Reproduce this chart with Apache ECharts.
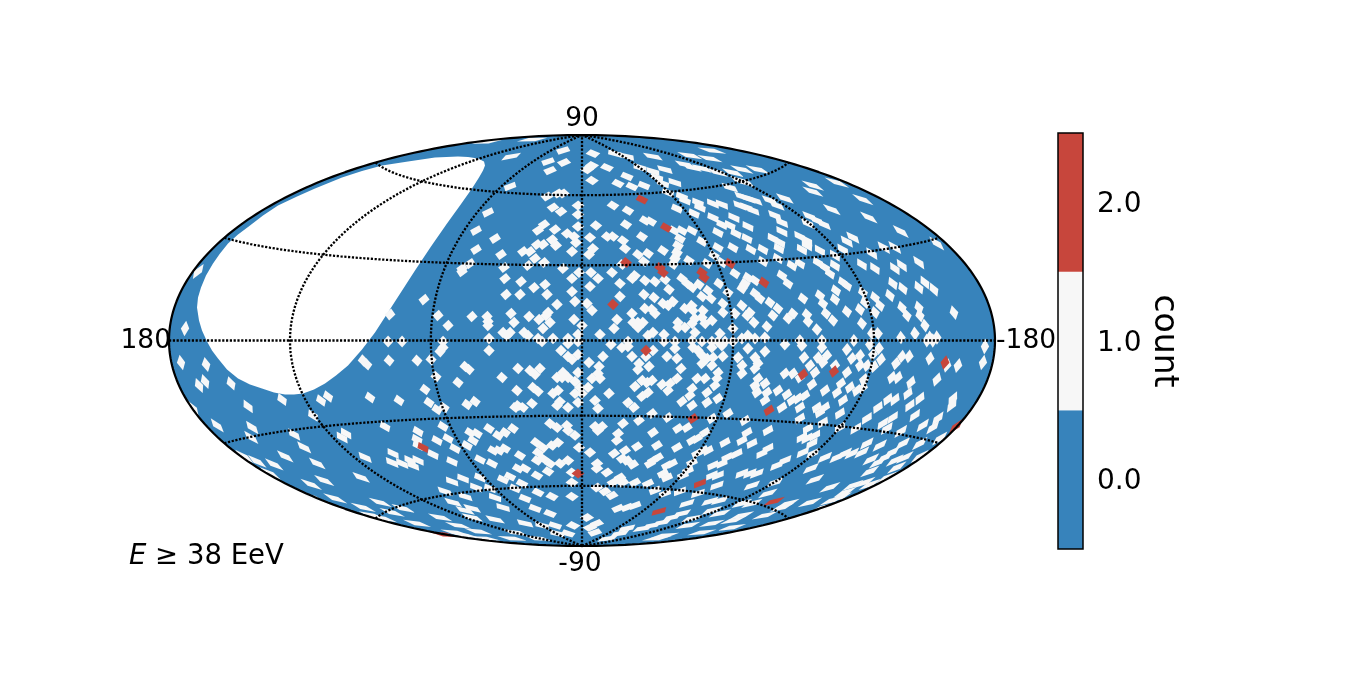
<!DOCTYPE html>
<html><head><meta charset="utf-8">
<style>html,body{margin:0;padding:0;background:#fff}#c{width:1350px;height:675px}</style>
<script src="https://cdn.jsdelivr.net/npm/echarts@6/dist/echarts.min.js"></script>
</head><body><div id="c"></div>
<script>
// Map-plane positions (east, north offsets from the map centre, in plane units).
const oneCellsNorthWest = [[-50,201],[-95,199],[-71,184],[-34,179],[-19,190],[-18,178],[-32,170],[-72,154],[-35,144],[-19,147],[-24,147],[-4,135],[-29,133],[-21,129],[-94,128],[-4,126],[-4,114],[-44,110],[-38,116],[-27,111],[-15,107],[-106,110],[-87,102],[-30,101],[-26,95],[-8,104],[-6,98],[-106,91],[-45,96],[-39,96],[-59,89],[-52,89],[-10,89],[-81,86],[-47,82],[-38,78],[-112,77],[-54,75],[-78,73],[-19,72],[-120,72]];
const oneCellsNorthEast = [[11,187],[33,187],[45,184],[71,184],[108,185],[130,190],[128,182],[10,175],[25,173],[5,171],[58,173],[83,171],[110,173],[103,176],[120,172],[136,168],[151,168],[160,171],[176,171],[71,169],[45,164],[75,163],[158,160],[163,158],[10,160],[36,157],[50,154],[62,155],[93,158],[148,153],[81,157],[86,148],[166,142],[160,144],[173,140],[188,140],[195,135],[203,142],[100,144],[103,140],[116,138],[118,133],[131,137],[140,136],[165,133],[158,135],[171,130],[31,135],[46,130],[95,132],[193,125],[200,118],[112,127],[131,123],[152,123],[63,120],[69,119],[140,116],[14,115],[44,116],[148,115],[154,107],[166,114],[92,110],[100,110],[110,110],[200,109],[136,108],[8,103],[25,104],[31,104],[60,104],[98,102],[165,102],[191,102],[198,98],[41,100],[120,99],[136,93],[151,93],[169,91],[181,91],[197,92],[7,86],[11,92],[43,92],[81,90],[96,95],[95,88],[66,87],[56,86],[93,82],[107,80],[62,79],[132,85],[140,78],[181,79],[196,82],[210,75],[40,76],[91,76],[125,77]];
const oneCellsNorthRim = [[231,155],[231,149],[255,158],[281,141],[250,131],[287,123],[235,120],[228,124],[242,116],[226,117],[319,109],[271,103],[265,99],[218,104],[225,100],[302,93],[313,93],[355,97],[290,87],[225,95],[261,91],[220,91],[238,90],[253,85],[236,78],[253,75],[243,73],[337,78],[280,76],[320,75],[313,72],[218,77],[293,72]];
const oneCellsWest = [[-397,12],[-401,-22],[-376,-24],[-377,-41],[-383,-45],[-351,-43],[-300,-59],[-334,-66],[-219,-20],[-215,-24],[-254,-56],[-261,-60],[-212,-57],[-389,-68],[-384,69]];
const oneCellsCentreWest = [[-158,41],[-192,26],[-120,69],[-77,62],[-61,59],[-37,56],[-48,53],[-10,62],[-3,68],[-76,46],[-62,46],[-35,46],[-10,49],[-7,39],[-25,36],[-144,25],[-110,24],[-95,24],[-94,19],[-94,15],[-71,27],[-53,24],[-34,28],[-36,25],[-43,21],[-8,21],[-68,18],[-32,18],[-134,15],[-39,12],[0,15],[-79,8],[-72,8],[-75,5],[-58,8],[-54,5],[-4,6],[-93,2],[-44,2],[-29,2],[-14,2],[-194,-1],[-180,-1],[-139,-1],[-40,-1],[-14,-3],[-4,-1],[-139,-7],[-142,-11],[-93,-10],[-21,-10],[-193,-20],[-165,-20],[-151,-19],[-14,-16],[-10,-19],[-4,-14],[-117,-26],[-113,-29],[-64,-28],[-52,-30],[-47,-34],[-42,-28],[-146,-36],[-80,-37],[-124,-42],[-4,-32],[-25,-37],[-19,-32],[-14,-37],[-20,-37],[-7,-41],[-157,-49],[-65,-50],[-49,-47],[-44,-51],[-2,-47],[-29,-53],[-24,-50],[-7,-53],[0,-53],[-183,-60],[-153,-62],[-107,-61],[-115,-64],[-138,-67],[-22,-61],[-25,-65],[-50,-63],[-64,-65],[-67,-67],[-59,-67],[-14,-67],[-4,-62],[-145,-69]];
const oneCellsCentreEast = [[9,68],[16,62],[30,68],[53,65],[50,62],[63,60],[73,59],[83,61],[8,54],[38,57],[87,51],[100,62],[105,57],[110,53],[117,56],[137,57],[166,63],[173,60],[160,52],[163,57],[153,67],[200,65],[206,57],[62,46],[38,44],[72,43],[120,44],[126,50],[129,42],[146,48],[173,47],[178,42],[188,38],[5,37],[160,35],[141,37],[81,37],[86,35],[91,39],[110,35],[103,32],[111,30],[70,31],[63,32],[73,27],[121,30],[196,32],[10,30],[50,27],[168,28],[165,25],[191,25],[153,27],[206,22],[211,27],[141,28],[120,23],[130,20],[123,17],[35,21],[56,18],[51,18],[61,18],[56,13],[96,18],[103,13],[113,22],[110,17],[172,18],[185,14],[32,12],[151,12],[96,13],[71,8],[66,5],[113,8],[18,6],[82,6],[166,5],[160,2],[173,2],[138,7],[183,3],[46,-1],[82,-1],[93,-1],[130,-1],[136,-1],[151,-1],[110,0],[120,-1],[143,-1],[29,-4],[40,-7],[46,-6],[71,-10],[93,-8],[111,-7],[116,-10],[130,-7],[140,-5],[166,-8],[183,-11],[203,-4],[50,-16],[64,-16],[85,-16],[95,-18],[120,-15],[125,-18],[131,-17],[141,-16],[173,-17],[156,-17],[7,-22],[21,-16],[57,-23],[67,-26],[17,-26],[120,-23],[130,-25],[160,-25],[176,-23],[56,-29],[99,-28],[136,-32],[173,-28],[16,-33],[160,-33],[203,-33],[211,-33],[10,-38],[18,-38],[176,-38],[115,-38],[123,-38],[95,-38],[88,-43],[135,-38],[65,-42],[60,-40],[70,-40],[53,-46],[80,-44],[6,-47],[133,-45],[173,-45],[183,-43],[86,-50],[110,-48],[108,-55],[196,-50],[27,-53],[66,-52],[60,-56],[125,-52],[175,-52],[185,-52],[205,-54],[210,-60],[46,-62],[13,-60],[100,-61],[136,-58],[125,-62],[183,-60],[52,-67],[110,-65],[16,-68],[200,-67]];
const oneCellsEast = [[221,42],[238,45],[241,37],[244,27],[254,50],[261,58],[248,67],[265,55],[253,41],[265,29],[225,26],[226,19],[251,20],[235,11],[280,17],[278,31],[293,28],[281,48],[283,38],[293,43],[298,35],[308,45],[311,57],[321,52],[337,53],[343,58],[352,51],[320,33],[325,25],[337,33],[338,25],[372,28],[296,7],[290,7],[343,15],[333,7],[319,3],[348,3],[355,3],[220,-5],[218,0],[240,0],[272,0],[345,0],[351,0],[288,-4],[297,-8],[403,-6],[240,-7],[265,-9],[291,-14],[278,-15],[222,-17],[236,-17],[245,-15],[241,-22],[270,-18],[299,-19],[320,-16],[327,-16],[348,-18],[314,-23],[401,-22],[253,-25],[228,-25],[233,-32],[278,-25],[285,-25],[292,-26],[376,-25],[265,-32],[365,-25],[218,-37],[282,-39],[310,-37],[316,-37],[355,-39],[230,-44],[259,-43],[329,-42],[243,-50],[255,-52],[268,-47],[275,-50],[326,-53],[371,-58],[223,-55],[216,-58],[338,-58],[261,-60],[306,-59],[313,-59],[281,-47],[328,-65],[296,-67],[370,-65],[235,-67],[243,-67],[218,-67]];
const oneCellsSouthWest = [[-197,-86],[-139,-86],[-164,-91],[-165,-99],[-164,-105],[-145,-100],[-134,-98],[-127,-108],[-149,-114],[-115,-105],[-130,-121],[-93,-88],[-77,-92],[-69,-88],[-84,-95],[-112,-92],[-105,-93],[-109,-100],[-89,-110],[-77,-108],[-83,-110],[-62,-115],[-46,-102],[-44,-112],[-32,-83],[-25,-87],[-15,-85],[-14,-90],[-7,-95],[-39,-107],[-30,-105],[-24,-102],[-3,-107],[-102,-119],[-90,-123],[-39,-118],[-45,-120],[-32,-123],[-22,-123],[-14,-120],[-64,-128],[-57,-128],[-45,-135],[-34,-131],[-10,-132],[-10,-142],[-189,-113],[-164,-120],[-172,-120],[-190,-122],[-180,-123],[-169,-125],[-130,-141],[-119,-138],[-102,-137],[-106,-147],[-79,-139],[-72,-136],[-60,-143],[-92,-148],[-67,-148],[-87,-157],[-79,-167],[-117,-156],[-137,-151],[-57,-158],[-44,-152],[-30,-156],[-10,-156],[-47,-168],[-32,-173],[-129,-162],[-110,-168],[-117,-170],[-202,-162],[-179,-168],[-190,-172],[-199,-178],[-142,-177],[-165,-183],[-110,-177],[-87,-179],[-57,-183],[-40,-185],[-27,-185],[-9,-185],[-124,-185],[-104,-191],[-67,-192],[-25,-193],[-117,-195],[-97,-198],[-70,-198],[-44,-198],[-14,-193],[-127,-192]];
const oneCellsSouthEast = [[13,-86],[20,-86],[16,-90],[41,-83],[36,-93],[35,-100],[57,-80],[71,-92],[70,-73],[86,-77],[96,-88],[105,-87],[115,-98],[110,-100],[123,-92],[143,-102],[130,-78],[146,-73],[163,-80],[165,-92],[160,-100],[170,-103],[186,-90],[180,-113],[186,-108],[8,-112],[32,-113],[40,-118],[43,-110],[45,-120],[51,-124],[55,-106],[95,-107],[75,-105],[71,-120],[76,-117],[68,-123],[90,-123],[85,-125],[121,-110],[126,-110],[110,-122],[115,-113],[155,-113],[145,-117],[140,-123],[131,-125],[15,-128],[15,-123],[25,-132],[38,-137],[31,-142],[41,-142],[53,-142],[66,-143],[81,-133],[85,-137],[101,-135],[106,-130],[130,-135],[136,-135],[135,-145],[168,-133],[160,-133],[175,-133],[195,-125],[203,-120],[170,-145],[193,-142],[116,-153],[105,-163],[98,-151],[73,-150],[23,-151],[30,-155],[15,-147],[83,-153],[128,-161],[138,-160],[186,-153],[45,-167],[36,-168],[53,-165],[5,-177],[15,-183],[8,-187],[130,-170],[138,-173],[160,-163],[170,-163],[160,-175],[151,-180],[100,-173],[90,-177],[80,-182],[70,-185],[61,-188],[45,-188],[38,-193],[110,-178],[130,-183],[150,-187],[106,-185],[83,-195],[75,-198],[183,-175],[200,-167],[206,-163],[120,-192],[13,-192],[26,-198]];
const oneCellsSouthRim = [[238,-72],[258,-73],[285,-78],[311,-77],[333,-75],[356,-78],[301,-83],[305,-88],[341,-85],[351,-87],[218,-78],[226,-88],[220,-97],[241,-82],[258,-87],[274,-88],[319,-91],[233,-95],[230,-103],[225,-98],[285,-103],[298,-105],[321,-103],[338,-103],[358,-98],[221,-112],[231,-113],[243,-117],[255,-117],[263,-113],[270,-113],[280,-112],[289,-119],[303,-117],[310,-112],[313,-120],[323,-117],[338,-116],[296,-122],[229,-128],[288,-131],[315,-127],[305,-137],[233,-139],[248,-147],[271,-145],[263,-152],[283,-142],[288,-144],[258,-157],[228,-162],[250,-160],[241,-167],[-365,-85],[-330,-87],[-331,-97],[-288,-94],[-269,-75],[-236,-93],[-240,-97],[-278,-107],[-297,-116],[-217,-117],[-338,-116],[-325,-121],[-308,-124],[-265,-123],[-312,-133],[-271,-144],[-258,-140],[-221,-137],[-247,-158],[-269,-157],[-219,-167],[-210,-175]];
const twoCells = [[60,141],[84,113],[44,78],[78,73],[81,68],[120,68],[122,63],[148,77],[182,58],[31,36],[64,-10],[221,-34],[252,-31],[363,-22],[187,-70],[111,-78],[-4,-133],[-159,-107],[118,-143],[77,-171],[192,-161],[374,-86],[-138,-194]];
const noExposureOutline = [[-104,182],[-114,183.5],[-124,184],[-147,183],[-174,179],[-200,175],[-220,169.5],[-240,163],[-267,152],[-285,144],[-304,135],[-319,125],[-332,115],[-344,106],[-354,97],[-362,87],[-369,77],[-376,65],[-381,53],[-384,43],[-385,33],[-383,20],[-380,10],[-375,-1],[-370,-10],[-364,-18],[-355,-29],[-344,-38],[-332,-44],[-320,-48],[-308,-52],[-297,-54],[-288,-54],[-279,-53],[-268,-49],[-257,-43],[-246,-35],[-234,-25],[-220,-9],[-207,8],[-187,39],[-167,70],[-151,94],[-135,117],[-122,135],[-110,152],[-103,163],[-99,170],[-97,175],[-98,179]];
const parallels = [-60,-30,0,30,60];
const meridians = [-120,-60,0,60,120];
const countBins = [[-0.5,0.5],[0.5,1.5],[1.5,2.5]];
const binColors = ['#3783bb','#f7f7f7','#c7463c'];
const colorbarTicks = [0,1,2];

const W = 413, H = 205.5, D = Math.PI/180;
function hammer(lon, lat){
  const l = lon*D/2, p = lat*D, h = Math.sqrt(1+Math.cos(p)*Math.cos(l));
  return [W*Math.cos(p)*Math.sin(l)/h, H*Math.sin(p)/h];
}
function inverse(u, v){
  const X = 2*Math.SQRT2*u/W, Y = Math.SQRT2*v/H;
  const zz = Math.max(0.02, 1-X*X/16-Y*Y/4), z = Math.sqrt(zz);
  return [2*Math.atan2(z*X, 2*(2*zz-1))/D, Math.asin(Math.max(-1,Math.min(1,z*Y)))/D];
}
function cellSeries(cells, color){
  return {type:'custom', coordinateSystem:'cartesian2d', xAxisIndex:0, yAxisIndex:0, clip:false, silent:true, z:3,
    data:cells, encode:{x:0,y:1},
    renderItem:function(p,api){
      const [lon,lat] = inverse(api.value(0),api.value(1));
      const dp = 2.25, dl = Math.min(40, 2.25/Math.max(0.05,Math.cos(lat*D)));
      const pts = [[lon-dl,lat],[lon,lat+dp],[lon+dl,lat],[lon,lat-dp]].map(c=>api.coord(hammer(c[0],Math.max(-89.9,Math.min(89.9,c[1])))));
      return {type:'polygon',shape:{points:pts},style:{fill:color}};
    }};
}
function curve(points, style, z){
  return {type:'line', xAxisIndex:0, yAxisIndex:0, data:points, showSymbol:false, symbol:'none', silent:true, clip:false, z:z, lineStyle:style};
}
const rim = [];
for(let a=-90;a<=90;a+=1) rim.push(hammer(180,a));
for(let a=90;a>=-90;a-=1) rim.push(hammer(-180,a));
const dotted = {color:'#000',width:2.3,type:[2.2,1.6],cap:'butt'};
const series = [
  {type:'custom',xAxisIndex:0,yAxisIndex:0,silent:true,clip:false,z:1,data:[[0,0]],
   renderItem:(p,api)=>({type:'polygon',shape:{points:rim.map(c=>api.coord(c))},style:{fill:binColors[0]}})},
  {type:'custom',xAxisIndex:0,yAxisIndex:0,silent:true,clip:false,z:2,data:[[0,0]],
   renderItem:(p,api)=>({type:'polygon',shape:{points:noExposureOutline.map(c=>api.coord(c))},style:{fill:'#fff'}})}
];
[oneCellsNorthWest,oneCellsNorthEast,oneCellsNorthRim,oneCellsWest,oneCellsCentreWest,oneCellsCentreEast,oneCellsEast,oneCellsSouthWest,oneCellsSouthEast,oneCellsSouthRim]
  .forEach(c=>series.push(cellSeries(c,binColors[1])));
series.push(cellSeries(twoCells,binColors[2]));
parallels.forEach(lat=>{const pts=[];for(let l=-180;l<=180;l+=3)pts.push(hammer(l,lat));series.push(curve(pts,dotted,5));});
meridians.forEach(lon=>{const pts=[];for(let a=-90;a<=90;a+=2)pts.push(hammer(lon,a));series.push(curve(pts,dotted,5));});
series.push(curve(rim,{color:'#000',width:2.2},6));
series.push({type:'custom',xAxisIndex:1,yAxisIndex:1,silent:true,clip:false,z:2,data:countBins.map((b,i)=>[0,b[0],b[1],i]),encode:{y:[1,2]},
  renderItem:(p,api)=>{
    const a=api.coord([0,api.value(1)]),b=api.coord([1,api.value(2)]);
    return {type:'rect',shape:{x:a[0],y:b[1],width:b[0]-a[0],height:a[1]-b[1]},style:{fill:binColors[api.value(3)]}};
  }});

const font = 'DejaVu Sans';
const mapLabel = (t,x,y,align)=>({type:'text',x:x,y:y,silent:true,z:10,style:{text:t,font:'26.5px "DejaVu Sans"',fill:'#000',align:align,verticalAlign:'middle'}});
const chart = echarts.init(document.getElementById('c'),null,{renderer:'canvas'});
chart.setOption({
  animation:false, backgroundColor:'#fff',
  grid:[
    {left:169,top:135,width:826,height:411,show:false},
    {left:1058,top:133,width:25,height:416,show:true,borderColor:'#000',borderWidth:1.5,backgroundColor:'transparent',z:8}
  ],
  xAxis:[
    {gridIndex:0,type:'value',min:-W,max:W,show:false},
    {gridIndex:1,type:'value',min:0,max:1,show:false}
  ],
  yAxis:[
    {gridIndex:0,type:'value',min:-H,max:H,show:false},
    {gridIndex:1,type:'value',min:-0.5,max:2.5,position:'right',splitLine:{show:false},
     axisLine:{show:false},
     axisTick:{show:true,length:7,lineStyle:{color:'#000',width:1.5},customValues:colorbarTicks},
     axisLabel:{show:true,margin:14,color:'#000',customValues:colorbarTicks,formatter:v=>'{t|'+Number(v).toFixed(1)+'}',
       rich:{t:{fontFamily:font,fontSize:28,color:'#000',padding:[5,0,0,0]}}},
     name:'count',nameLocation:'middle',nameRotate:-90,nameGap:64,nameTextStyle:{color:'#000',fontFamily:font,fontSize:33}}
  ],
  series:series,
  graphic:[
    mapLabel('90',582,119,'center'),
    mapLabel('-90',580,564,'center'),
    mapLabel('180',171,341,'right'),
    mapLabel('-180',996,341,'left'),
    {type:'text',x:129,y:557,silent:true,z:10,style:{text:'{i|E}{n| ≥ 38 EeV}',verticalAlign:'middle',
      rich:{i:{font:'italic 27.5px "DejaVu Sans"',fill:'#000'},n:{font:'27.5px "DejaVu Sans"',fill:'#000'}}}}
  ]
});
</script></body></html>
